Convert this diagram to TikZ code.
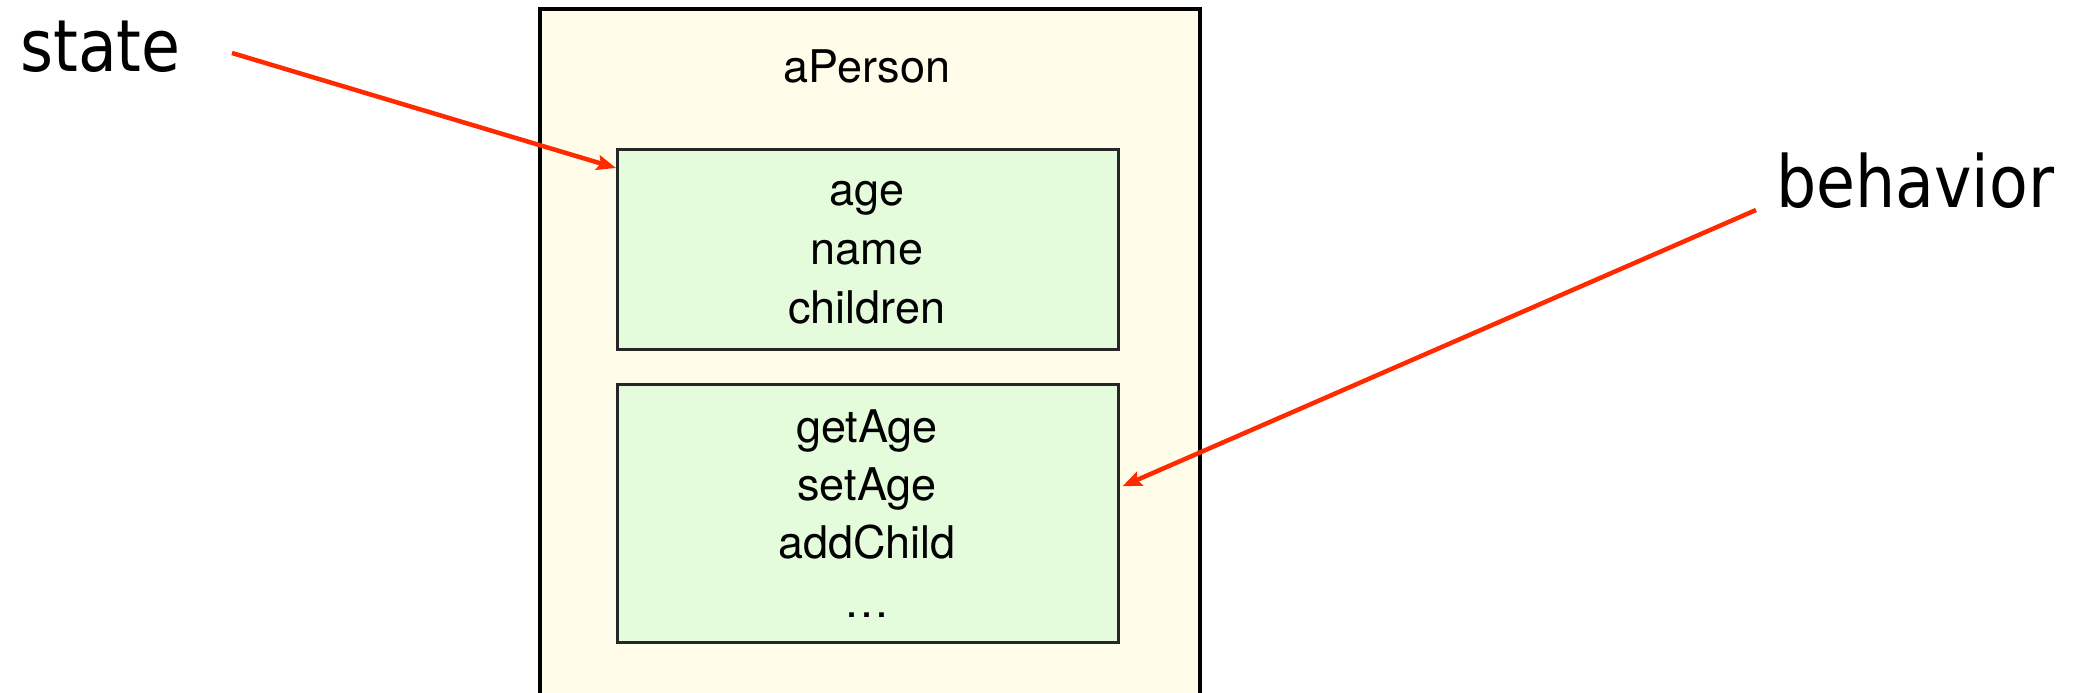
\documentclass[tikz,border=0pt]{standalone}
\usepackage{fontspec}
\setmainfont{TeX Gyre Heros}
\newfontfamily\labelfont{DejaVu Sans}[FakeStretch=0.88]
\usetikzlibrary{arrows.meta}
\definecolor{objfill}{HTML}{FFFDE9}
\definecolor{partfill}{HTML}{E5FCDC}
\definecolor{arrowred}{HTML}{FF2A00}
\tikzset{
  objbox/.style={draw=black, line width=4pt, fill=objfill, inner sep=0pt, anchor=north west},
  partbox/.style={draw=black!85, line width=2.5pt, fill=partfill, inner sep=0pt, anchor=north west},
  member/.style={font=\fontsize{45}{54}\selectfont, anchor=base, inner sep=0pt},
  sidelabel/.style={font=\labelfont\fontsize{72}{86}\selectfont, anchor=base west, inner sep=0pt},
  pointer/.style={draw=arrowred, line width=4.5pt, -{Stealth[length=19pt,width=15pt,inset=3pt]}}
}
\begin{document}
\begin{tikzpicture}[x=1pt,y=-1pt]
  \useasboundingbox (0,0) rectangle (2078,693);
  \clip (0,0) rectangle (2078,693);
  \fill[white] (0,0) rectangle (2078,693);

  % the object and its two parts
  \node[objbox, minimum width=660pt, minimum height=740pt] (person) at (538,7) {};
  \node[member] (pname) at (867,82) {aPerson};

  \node[partbox, minimum width=501pt, minimum height=200pt] (statebox) at (616,148) {};
  \node[member] (f1) at (867,205) {age};
  \node[member] (f2) at (867,264) {name};
  \node[member] (f3) at (867,323) {children};

  \node[partbox, minimum width=501pt, minimum height=258pt] (behavbox) at (616,383) {};
  \node[member] (m1) at (867,442) {getAge};
  \node[member] (m2) at (867,500) {setAge};
  \node[member] (m3) at (867,558) {addChild};
  \node[member] (m4) at (867,617) {\dots};

  % labels and their pointers
  \node[sidelabel] (statelbl) at (20,72) {state};
  \node[sidelabel] (behavlbl) at (1776,207) {behavior};
  \coordinate (sfrom) at (232,53);
  \coordinate (bfrom) at (1756,210);
  \draw[pointer] (sfrom) -- ([yshift=-20pt]statebox.north west);
  \draw[pointer] (bfrom) -- ([xshift=3pt,yshift=27pt]behavbox.east);
\end{tikzpicture}
\end{document}
